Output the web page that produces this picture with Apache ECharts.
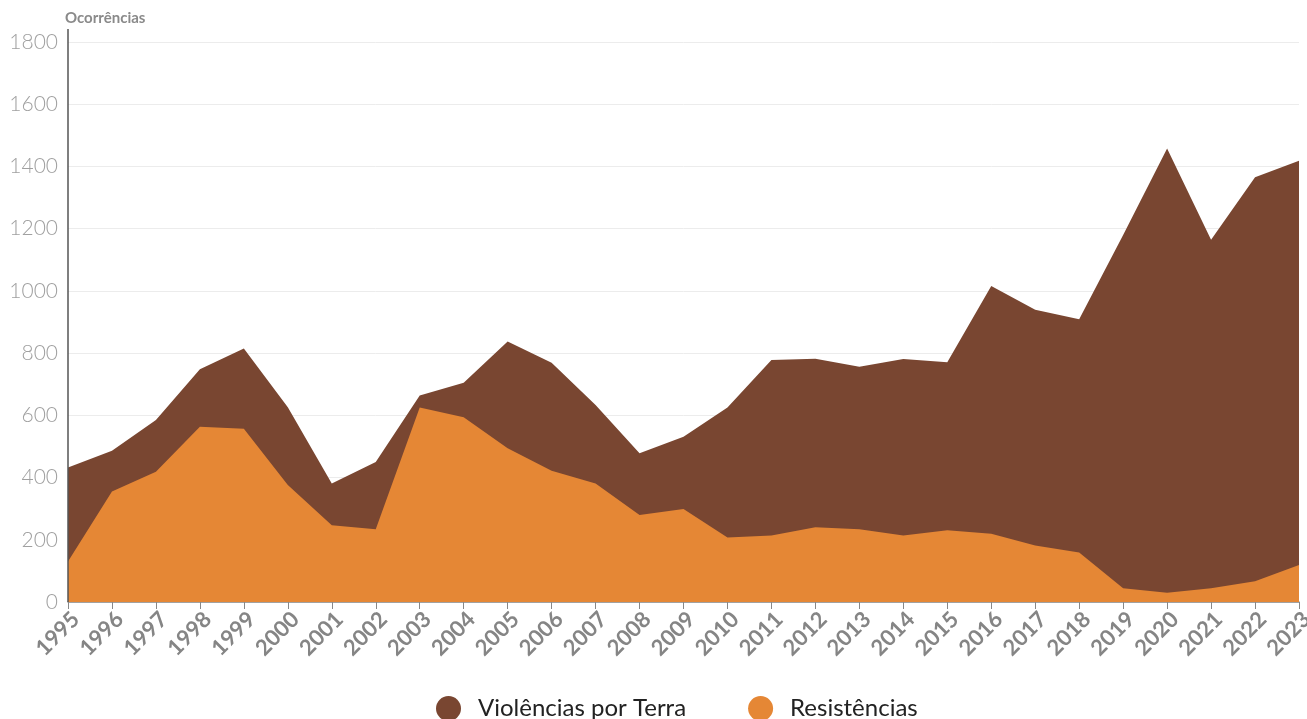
<!DOCTYPE html>
<html>
<head>
<meta charset="utf-8">
<style>
  html, body { margin: 0; padding: 0; background: #ffffff; }
  #chart { width: 1307px; height: 719px; }
</style>
<script src="https://cdn.jsdelivr.net/npm/echarts@6/dist/echarts.min.js"></script>
</head>
<body>
<div id="chart"></div>
<script>
// Anos da série
const years = ['1995','1996','1997','1998','1999','2000','2001','2002','2003','2004',
  '2005','2006','2007','2008','2009','2010','2011','2012','2013','2014',
  '2015','2016','2017','2018','2019','2020','2021','2022','2023'];

// Ocorrências de violências por terra
const violencias = [432, 486, 585, 748, 815, 626, 381, 450, 664, 705,
  837, 769, 633, 478, 531, 625, 778, 782, 756, 781,
  771, 1016, 939, 909, 1180, 1458, 1164, 1365, 1418];

// Ocorrências de resistências
const resistencias = [130, 355, 419, 563, 557, 376, 247, 234, 625, 594,
  494, 422, 381, 280, 299, 207, 214, 240, 234, 214,
  231, 219, 182, 159, 44, 30, 44, 67, 119];

const yTicks = { min: 0, max: 1800, interval: 200 };

const chart = echarts.init(document.getElementById('chart'), null, { renderer: 'canvas' });

chart.setOption({
  animation: false,
  backgroundColor: '#ffffff',
  textStyle: { fontFamily: 'Lato, "Noto Sans", sans-serif' },
  title: {
    text: 'Ocorrências',
    left: 60,
    top: 6,
    textStyle: { fontFamily: 'Lato', fontWeight: 'bold', fontSize: 15, color: '#8a8a8a' }
  },
  grid: { left: 68, right: 8, top: 42, bottom: 117, containLabel: false, outerBoundsMode: 'none' },
  legend: {
    top: 691,
    left: 431,
    icon: 'circle',
    itemWidth: 25,
    itemHeight: 25,
    itemGap: 62,
    textStyle: { fontFamily: 'Lato', fontSize: 24, color: '#222222', padding: [0, 0, 0, 12] },
    data: ['Violências por Terra', 'Resistências']
  },
  xAxis: {
    type: 'category',
    data: years,
    boundaryGap: false,
    axisLine: { lineStyle: { color: '#888888', width: 1.5 } },
    axisTick: { alignWithLabel: true, length: 7, lineStyle: { color: '#888888' } },
    axisLabel: {
      rotate: 45,
      interval: 0,
      margin: 6,
      verticalAlign: 'top',
      hideOverlap: false,
      fontFamily: 'Lato',
      fontWeight: 'bold',
      fontSize: 22,
      color: '#858585'
    },
    splitLine: { show: false }
  },
  yAxis: {
    type: 'value',
    min: yTicks.min,
    max: yTicks.max,
    interval: yTicks.interval,
    axisLine: { show: false },
    axisTick: { show: false },
    axisLabel: {
      margin: 10,
      fontFamily: 'Lato',
      fontWeight: 300,
      fontSize: 21,
      color: '#a0a0a0',
      formatter: (v) => String(v)
    },
    splitLine: { lineStyle: { color: '#ececec', width: 1 } }
  },
  graphic: [{
    // eixo vertical, prolongado acima da última linha de grade
    type: 'line',
    shape: { x1: 68, y1: 29, x2: 68, y2: 602 },
    style: { stroke: '#555555', lineWidth: 1.5 },
    z: 10
  }],
  series: [
    {
      name: 'Violências por Terra',
      type: 'line',
      data: violencias,
      symbol: 'none',
      itemStyle: { color: '#794631' },
      lineStyle: { width: 0 },
      areaStyle: { color: '#794631', opacity: 1 },
      z: 2
    },
    {
      name: 'Resistências',
      type: 'line',
      data: resistencias,
      symbol: 'none',
      itemStyle: { color: '#e58735' },
      lineStyle: { width: 0 },
      areaStyle: { color: '#e58735', opacity: 1 },
      z: 3
    }
  ]
});
</script>
</body>
</html>
